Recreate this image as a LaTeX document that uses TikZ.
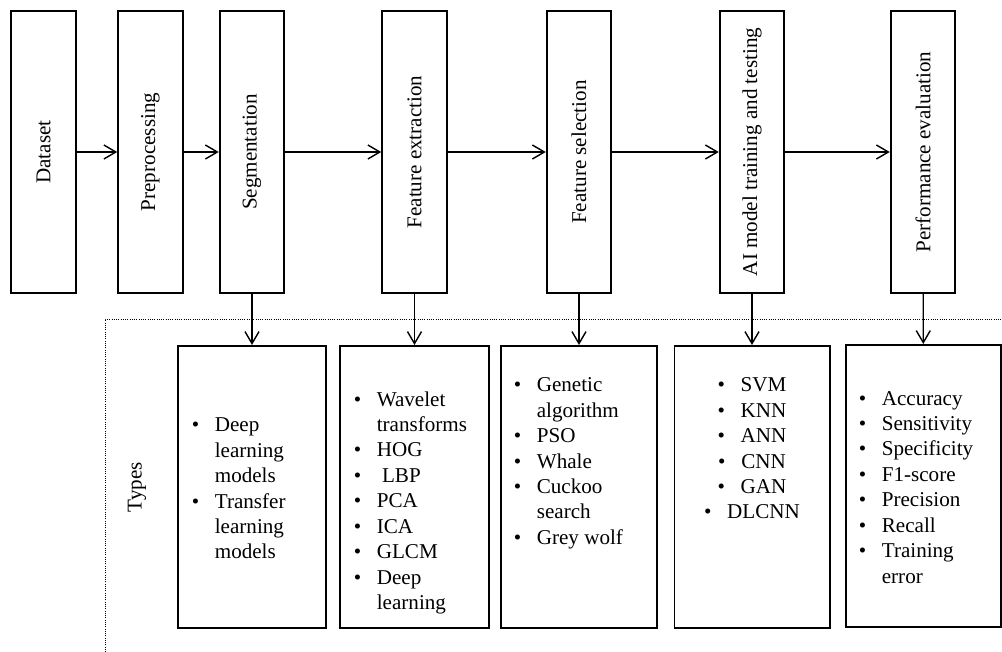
\documentclass[tikz,border=0pt]{standalone}
\usepackage{fontspec}
\setmainfont{Liberation Serif}
\usetikzlibrary{arrows.meta, positioning}

\newcommand{\bul}{\makebox[16.4pt][l]{\textbullet}}
\newcommand{\gap}{\hspace*{16.4pt}}

\begin{document}
\begin{tikzpicture}[x=0.025cm, y=-0.025cm,
        every node/.style={font=\fontsize{15}{18.1}\selectfont},
        stage/.style={draw, line width=1.4pt, minimum width=1.6125cm, minimum height=7.05cm, inner sep=0pt},
        typebox/.style={draw, line width=1.4pt, minimum height=7.05cm, inner sep=0pt},
        itemlist/.style={inner sep=0pt},
        arr/.style={line width=1pt, -{Straight Barb[length=0.3cm, width=0.35cm, line width=1pt]}}]
        \useasboundingbox (0,0) rectangle (1002,652);

        % stages
        \node[stage] (dataset) at (43.5,152)  {\rotatebox{90}{Dataset}};
        \node[stage] (prep)    at (150.5,152) {\rotatebox{90}{Preprocessing}};
        \node[stage] (seg)     at (252,152)   {\rotatebox{90}{Segmentation}};
        \node[stage] (fext)    at (414.5,152) {\rotatebox{90}{Feature extraction}};
        \node[stage] (fsel)    at (579,152)   {\rotatebox{90}{Feature selection}};
        \node[stage] (model)   at (752,152)   {\rotatebox{90}{AI model training and testing}};
        \node[stage] (perf)    at (923,152)   {\rotatebox{90}{Performance evaluation}};

        \draw[arr] (dataset) -- (prep);
        \draw[arr] (prep) -- (seg);
        \draw[arr] (seg) -- (fext);
        \draw[arr] (fext) -- (fsel);
        \draw[arr] (fsel) -- (model);
        \draw[arr] (model) -- (perf);

        % types frame
        \draw[line width=0.6pt, densely dotted] (105,652) -- (105,319) -- (1002,319);
        \node[rotate=90] (types) at (137,487) {Types};

        % type boxes
        \node[typebox, minimum width=3.7cm]   (segtypes)   at (252,487)   {};
        \node[typebox, minimum width=3.725cm] (fexttypes)  at (414.5,487) {};
        \node[typebox, minimum width=3.875cm] (fseltypes)  at (579,487)   {};
        \node[typebox, minimum width=3.875cm] (modeltypes) at (752,487)   {};
        \node[typebox, minimum width=3.875cm] (perftypes)  at (923.5,486) {};

        \draw[arr] (seg) -- (segtypes);
        \draw[arr] (fext) -- (fexttypes);
        \draw[arr] (fsel) -- (fseltypes);
        \draw[arr] (model) -- (modeltypes);
        \draw[arr] (perf) -- (perftypes);

        % lists
        \node[itemlist, anchor=base west] (seglist) at (191.5,431.7) {\begin{tabular}[t]{@{}l@{}}
            \bul Deep\\ \gap learning\\ \gap models\\
            \bul Transfer\\ \gap learning\\ \gap models\end{tabular}};
        \node[itemlist, anchor=base west] (fextlist) at (353.5,406) {\begin{tabular}[t]{@{}l@{}}
            \bul Wavelet\\ \gap transforms\\ \bul HOG\\ \bul\ LBP\\ \bul PCA\\
            \bul ICA\\ \bul GLCM\\ \bul Deep\\ \gap learning\end{tabular}};
        \node[itemlist, anchor=base west] (fsellist) at (513.5,391.7) {\begin{tabular}[t]{@{}l@{}}
            \bul Genetic\\ \gap algorithm\\ \bul PSO\\ \bul Whale\\
            \bul Cuckoo\\ \gap search\\ \bul Grey wolf\end{tabular}};
        \node[itemlist, anchor=base] (modellist) at (752,391.7) {\begin{tabular}[t]{@{}c@{}}
            \bul SVM\\ \bul KNN\\ \bul ANN\\ \bul CNN\\ \bul GAN\\ \bul DLCNN\end{tabular}};
        \node[itemlist, anchor=base west] (perflist) at (858.5,405) {\begin{tabular}[t]{@{}l@{}}
            \bul Accuracy\\ \bul Sensitivity\\ \bul Specificity\\ \bul F1-score\\
            \bul Precision\\ \bul Recall\\ \bul Training\\ \gap error\end{tabular}};
    \end{tikzpicture}
\end{document}
